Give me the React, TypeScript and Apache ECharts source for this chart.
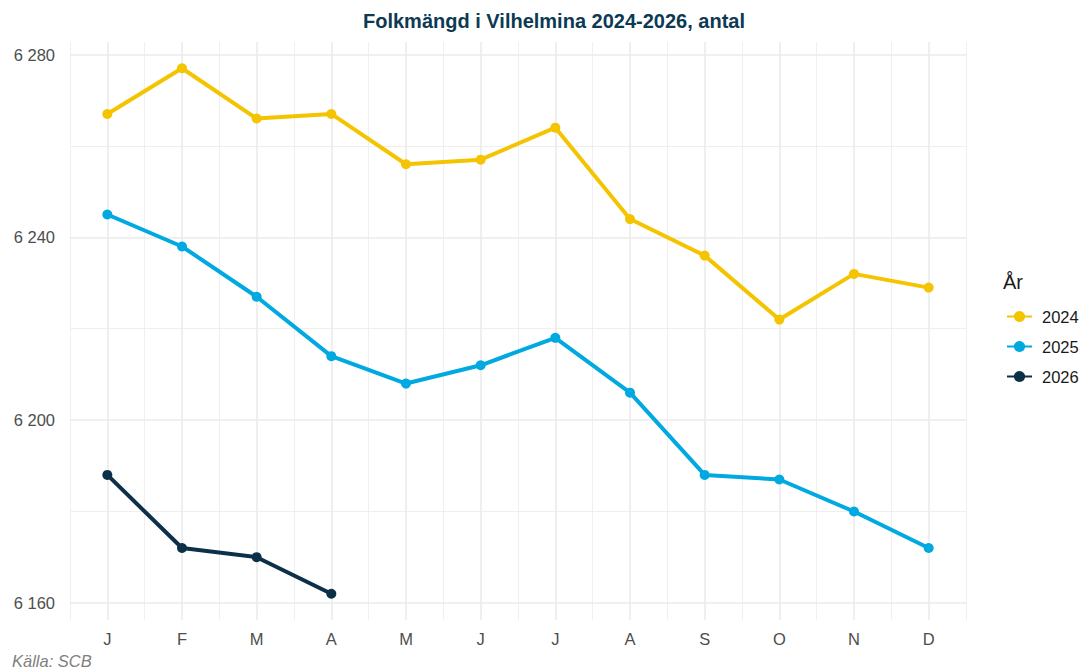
import React, { useEffect, useRef } from "react";
import * as echarts from "echarts";

const months = ["J", "F", "M", "A", "M", "J", "J", "A", "S", "O", "N", "D"];
const years = ["2024", "2025", "2026"];
const values2024 = [6267, 6277, 6266, 6267, 6256, 6257, 6264, 6244, 6236, 6222, 6232, 6229];
const values2025 = [6245, 6238, 6227, 6214, 6208, 6212, 6218, 6206, 6188, 6187, 6180, 6172];
const values2026 = [6188, 6172, 6170, 6162];
const majorTicks = [6160, 6200, 6240, 6280];
const minorTicks = [6180, 6220, 6260];
const colors = ["#F5C400", "#00A9E0", "#0B3048"];

const FONT = "'Liberation Sans', Arial, sans-serif";

export default function App() {
  const ref = useRef<HTMLDivElement>(null);

  useEffect(() => {
    if (!ref.current) return;
    const chart = echarts.init(ref.current, undefined, { renderer: "svg" });
    const all = [...values2024, ...values2025, ...values2026];
    const lo = Math.min(...all);
    const hi = Math.max(...all);
    const pad = (hi - lo) * 0.05;
    const yMin = lo - pad;
    const yMax = hi + pad;
    const fmt = (v: number) => String(v).replace(/\B(?=(\d{3})+(?!\d))/g, " ");
    const seriesData = [values2024, values2025, values2026];

    chart.setOption({
      animation: false,
      textStyle: { fontFamily: FONT },
      title: [
        {
          text: "Folkmängd i Vilhelmina 2024-2026, antal",
          left: 363,
          top: 11,
          padding: 0,
          textStyle: { fontSize: 20, fontWeight: "bold", color: "#0D3A53", fontFamily: FONT },
        },
        {
          text: "År",
          left: 1003,
          top: 272,
          padding: 0,
          textStyle: { fontSize: 20, fontWeight: "normal", color: "#1a1a1a", fontFamily: FONT },
        },
        {
          text: "Källa: SCB",
          left: 12,
          top: 652,
          padding: 0,
          textStyle: { fontSize: 16.5, fontWeight: "normal", fontStyle: "italic", color: "#808080", fontFamily: FONT },
        },
      ],
      legend: {
        orient: "vertical",
        left: 1006,
        top: 308,
        itemWidth: 25,
        itemHeight: 14,
        itemGap: 13,
        padding: 0,
        data: years,
        textStyle: { fontSize: 16.5, color: "#1a1a1a", fontFamily: FONT, padding: [0, 0, 0, 5] },
      },
      grid: { left: 70, right: 122, top: 42, bottom: 52 },
      xAxis: [
        {
          type: "category",
          data: months,
          boundaryGap: true,
          axisLine: { show: false },
          axisTick: { show: false, alignWithLabel: true },
          axisLabel: { margin: 10, fontSize: 16.5, color: "#4D4D4D", fontFamily: FONT },
          splitLine: { show: true, alignWithLabel: true, lineStyle: { color: "#EBEBEB", width: 1.6 } },
        },
        {
          type: "category",
          data: months,
          position: "top",
          boundaryGap: true,
          axisLine: { show: false },
          axisTick: { show: false },
          axisLabel: { show: false },
          splitLine: { show: true, lineStyle: { color: "#EBEBEB", width: 0.8 } },
        },
      ],
      yAxis: [
        {
          type: "value",
          min: yMin,
          max: yMax,
          axisLine: { show: false },
          axisTick: { show: false, customValues: majorTicks },
          axisLabel: {
            customValues: majorTicks,
            formatter: (v: number) => fmt(v),
            margin: 15,
            fontSize: 16.5,
            color: "#4D4D4D",
            fontFamily: FONT,
          },
          splitLine: { show: true, lineStyle: { color: "#EBEBEB", width: 1.6 } },
        },
        {
          type: "value",
          min: yMin,
          max: yMax,
          axisLine: { show: false },
          axisTick: { show: false, customValues: minorTicks },
          axisLabel: { show: false, customValues: minorTicks },
          splitLine: { show: true, lineStyle: { color: "#EBEBEB", width: 0.8 } },
        },
      ],
      series: years.map((y, i) => ({
        name: y,
        type: "line",
        xAxisIndex: 0,
        yAxisIndex: 0,
        data: seriesData[i],
        symbol: "circle",
        symbolSize: 10,
        color: colors[i],
        lineStyle: { width: 4, color: colors[i] },
        itemStyle: { color: colors[i] },
      })),
    });
    return () => chart.dispose();
  }, []);

  return (
    <div
      ref={ref}
      style={{ position: "fixed", left: 0, top: 0, width: 1088, height: 672, background: "#fff" }}
    />
  );
}
